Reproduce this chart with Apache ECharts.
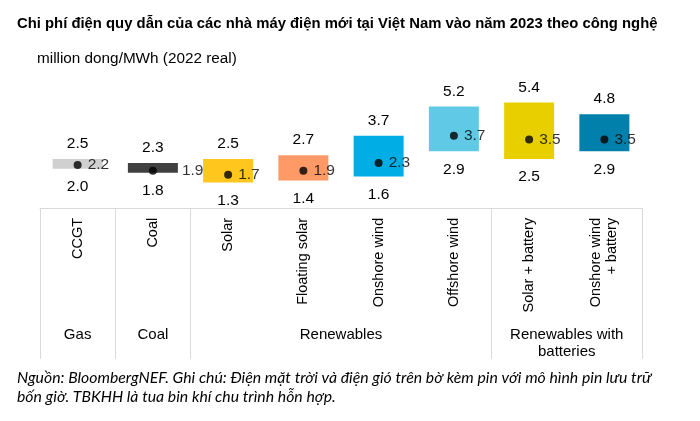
<!DOCTYPE html>
<html>
<head>
<meta charset="utf-8">
<script src="https://cdn.jsdelivr.net/npm/echarts@6/dist/echarts.min.js"></script>
<style>
html,body{margin:0;padding:0;background:#fff;}
#chart{width:700px;height:421px;}
</style>
</head>
<body>
<div id="chart"></div>
<script>
const categories = ['CCGT', 'Coal', 'Solar', 'Floating solar', 'Onshore wind', 'Offshore wind', 'Solar + battery', 'Onshore wind\n+ battery'];
const lowValues = [2.0, 1.8, 1.3, 1.4, 1.6, 2.9, 2.5, 2.9];
const highValues = [2.5, 2.3, 2.5, 2.7, 3.7, 5.2, 5.4, 4.8];
const midValues = [2.2, 1.9, 1.7, 1.9, 2.3, 3.7, 3.5, 3.5];
const groups = ['Gas', 'Coal', 'Renewables', 'Renewables with\nbatteries'];
const groupSizes = [1, 1, 4, 2];

const barColors = ['#D0D0D0', '#404040', '#FFC61E', '#FF9966', '#00AEE5', '#60CAE6', '#E8D000', '#0080AA'];
const darkBars = [false, true, false, false, false, false, false, false];

const BAR_W = 50, DOT = 8;

// group boundaries and centers in category-index space
const boundaries = [0];
groupSizes.forEach(s => boundaries.push(boundaries[boundaries.length - 1] + s));
const groupCenters = groups.map((g, i) => (boundaries[i] + boundaries[i + 1]) / 2);

const FONT = 'Liberation Sans, Arial, sans-serif';
const chart = echarts.init(document.getElementById('chart'), null, {renderer: 'canvas'});

const option = {
  animation: false,
  backgroundColor: '#fff',
  title: [
    {
      text: 'Chi phí điện quy dẫn của các nhà máy điện mới tại Việt Nam vào năm 2023 theo công nghệ',
      left: 17, top: 16, padding: 0,
      textStyle: {fontFamily: FONT, fontSize: 14.85, fontWeight: 'bold', color: '#000'}
    },
    {
      text: 'million dong/MWh (2022 real)',
      left: 37, top: 51, padding: 0,
      textStyle: {fontFamily: FONT, fontSize: 15.3, fontWeight: 'normal', color: '#000'}
    },
    {
      text: 'Nguồn: BloombergNEF. Ghi chú: Điện mặt trời và điện gió trên bờ kèm pin với mô hình pin lưu trữ\nbốn giờ. TBKHH là tua bin khí chu trình hỗn hợp.',
      left: 17, top: 368, padding: 0,
      textStyle: {fontFamily: 'Lato, sans-serif', fontStyle: 'italic', fontSize: 15.8, fontWeight: 'normal', color: '#000', lineHeight: 19}
    }
  ],
  grid: {left: 40, right: 58, top: 90.8, bottom: 213.2, containLabel: false},
  xAxis: [
    {
      type: 'category',
      data: categories,
      position: 'bottom',
      axisLine: {show: true, lineStyle: {color: '#D9D9D9', width: 1}},
      axisTick: {show: false},
      axisLabel: {
        rotate: 90, margin: 10, interval: 0,
        fontFamily: FONT, fontSize: 14.5, color: '#000', lineHeight: 16
      },
      splitLine: {show: false}
    },
    {
      type: 'value',
      min: 0, max: boundaries[boundaries.length - 1],
      position: 'bottom',
      axisLine: {show: false},
      splitLine: {show: false},
      axisTick: {
        show: true, customValues: boundaries, length: 151, inside: false,
        lineStyle: {color: '#D9D9D9', width: 1}
      },
      axisLabel: {
        show: true, customValues: groupCenters, margin: 119,
        fontFamily: FONT, fontSize: 15, color: '#000', lineHeight: 17,
        formatter: function (v) {
          const i = groupCenters.findIndex(c => Math.abs(c - v) < 1e-6);
          return i >= 0 ? groups[i] : '';
        }
      }
    }
  ],
  yAxis: {type: 'value', min: 0, max: 6, show: false, splitLine: {show: false}},
  series: [
    {
      name: 'low',
      type: 'bar',
      stack: 'range',
      xAxisIndex: 0,
      barWidth: BAR_W,
      data: lowValues,
      itemStyle: {color: 'transparent'},
      emphasis: {disabled: true},
      silent: true,
      label: {
        show: true, position: 'insideTop', distance: 10,
        fontFamily: FONT, fontSize: 15.5, color: '#000',
        formatter: p => lowValues[p.dataIndex].toFixed(1)
      }
    },
    {
      name: 'range',
      type: 'bar',
      stack: 'range',
      xAxisIndex: 0,
      barWidth: BAR_W,
      data: highValues.map((h, i) => ({
        value: +(h - lowValues[i]).toFixed(2),
        itemStyle: {color: barColors[i]}
      })),
      emphasis: {disabled: true},
      silent: true,
      label: {
        show: true, position: 'top', distance: 7,
        fontFamily: FONT, fontSize: 15.5, color: '#000',
        formatter: p => highValues[p.dataIndex].toFixed(1)
      }
    },
    {
      name: 'mid',
      type: 'scatter',
      xAxisIndex: 0,
      data: midValues.map((v, i) => ({
        value: v,
        label: {distance: darkBars[i] ? (BAR_W - DOT) / 2 + 4 : 6}
      })),
      symbol: 'circle',
      symbolSize: DOT,
      itemStyle: {color: '#000'},
      emphasis: {disabled: true},
      silent: true,
      z: 5,
      label: {
        show: true, position: 'right', distance: 6,
        fontFamily: FONT, fontSize: 15.5, color: '#000',
        formatter: p => midValues[p.dataIndex].toFixed(1)
      }
    }
  ]
};
chart.setOption(option);
</script>
</body>
</html>
